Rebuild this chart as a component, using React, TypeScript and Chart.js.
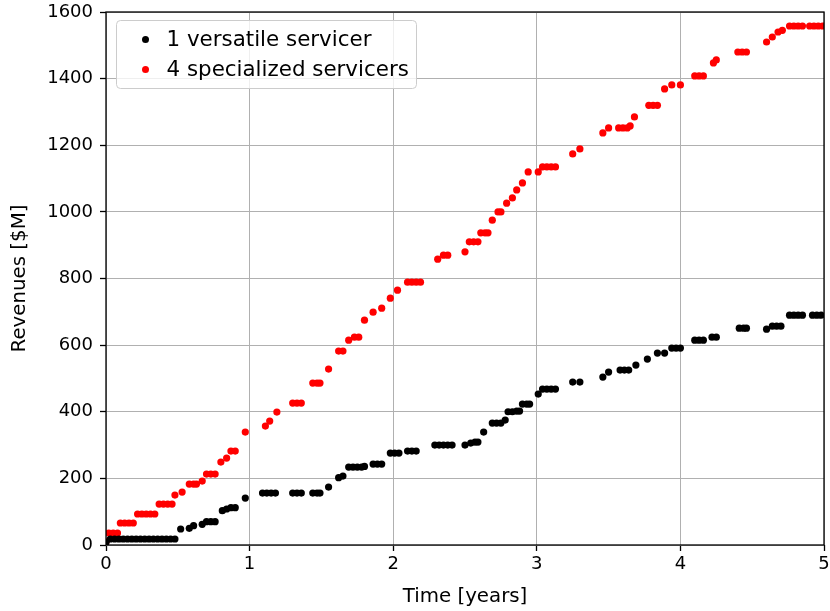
import React, { useEffect, useRef } from 'react';
import { Chart, registerables } from 'chart.js';

Chart.register(...registerables);

// ---- data ----
const seriesLabels = ['1 versatile servicer', '4 specialized servicers'];
const seriesColors = ['#000000', '#ff0000'];

const versatileTime = [
  0.0, 0.03, 0.06, 0.09, 0.12, 0.15, 0.18, 0.21, 0.24, 0.27, 0.3, 0.33, 0.36, 0.39, 0.42, 0.45, 0.48,
  0.52, 0.58, 0.61, 0.67, 0.7, 0.73, 0.76, 0.81, 0.84, 0.87, 0.9, 0.97,
  1.09, 1.12, 1.15, 1.18, 1.3, 1.33, 1.36, 1.44, 1.47, 1.49, 1.55, 1.62, 1.65,
  1.69, 1.72, 1.75, 1.78, 1.8, 1.86, 1.89, 1.92, 1.98, 2.01, 2.04,
  2.1, 2.13, 2.16, 2.29, 2.32, 2.35, 2.38, 2.41, 2.5, 2.54, 2.57, 2.59, 2.63,
  2.69, 2.72, 2.75, 2.78, 2.8, 2.83, 2.86, 2.88, 2.9, 2.93, 2.95,
  3.01, 3.04, 3.07, 3.1, 3.13, 3.25, 3.3, 3.46, 3.5, 3.58, 3.61, 3.64, 3.69,
  3.77, 3.84, 3.89, 3.94, 3.97, 4.0, 4.1, 4.13, 4.16, 4.22, 4.25,
  4.41, 4.44, 4.46, 4.6, 4.64, 4.67, 4.7, 4.76, 4.79, 4.82, 4.85, 4.92, 4.95, 4.98,
];
const versatileRevenue = [
  8, 18, 18, 18, 18, 18, 18, 18, 18, 18, 18, 18, 18, 18, 18, 18, 18,
  48, 50, 58, 62, 70, 70, 70, 103, 108, 112, 112, 141,
  156, 156, 156, 156, 156, 156, 156, 156, 156, 156, 174, 202, 207,
  234, 234, 234, 234, 236, 243, 243, 243, 276, 276, 276,
  282, 282, 282, 300, 300, 300, 300, 300, 300, 306, 309, 309, 339,
  366, 366, 366, 375, 400, 400, 402, 402, 423, 423, 423,
  453, 468, 468, 468, 468, 489, 489, 504, 519, 525, 525, 525, 540,
  558, 576, 576, 591, 591, 591, 615, 615, 615, 624, 624,
  651, 651, 651, 648, 657, 657, 657, 690, 690, 690, 690, 690, 690, 690,
];

const specializedTime = [
  0.0, 0.02, 0.05, 0.08, 0.1, 0.13, 0.16, 0.19, 0.22, 0.25, 0.28, 0.31, 0.34,
  0.37, 0.4, 0.43, 0.46, 0.48, 0.53, 0.58, 0.61, 0.63, 0.67, 0.7, 0.73, 0.76,
  0.8, 0.84, 0.87, 0.9, 0.97, 1.11, 1.14, 1.19, 1.3, 1.33, 1.36, 1.44, 1.47, 1.49,
  1.55, 1.62, 1.65, 1.69, 1.73, 1.76, 1.8, 1.86, 1.92, 1.98, 2.03,
  2.1, 2.13, 2.16, 2.19, 2.31, 2.35, 2.38, 2.5, 2.53, 2.56, 2.59,
  2.61, 2.64, 2.66, 2.69, 2.73, 2.75, 2.79, 2.83, 2.86, 2.9, 2.94,
  3.01, 3.04, 3.07, 3.1, 3.13, 3.25, 3.3, 3.46, 3.5, 3.57, 3.6, 3.63, 3.65, 3.68,
  3.78, 3.81, 3.84, 3.89, 3.94, 4.0, 4.1, 4.13, 4.16, 4.23, 4.25,
  4.4, 4.43, 4.46, 4.6, 4.64, 4.68, 4.71, 4.76, 4.79, 4.82, 4.85, 4.9, 4.93, 4.96, 4.99,
];
const specializedRevenue = [
  10, 36, 36, 36, 66, 66, 66, 66, 93, 93, 93, 93, 93,
  123, 123, 123, 123, 150, 159, 183, 183, 183, 192, 213, 213, 213,
  249, 261, 282, 282, 339, 357, 372, 399, 426, 426, 426, 486, 486, 486,
  528, 582, 582, 615, 624, 624, 675, 699, 711, 741, 765,
  789, 789, 789, 789, 858, 870, 870, 880, 910, 910, 910,
  937, 937, 937, 975, 1000, 1000, 1026, 1042, 1066, 1087, 1120,
  1120, 1135, 1135, 1135, 1135, 1174, 1189, 1237, 1252, 1252, 1252, 1252, 1258, 1285,
  1320, 1320, 1320, 1369, 1381, 1381, 1408, 1408, 1408, 1447, 1456,
  1480, 1480, 1480, 1510, 1525, 1540, 1545, 1558, 1558, 1558, 1558, 1558, 1558, 1558, 1558,
];

const xTickValues = [0, 1, 2, 3, 4, 5];
const yTickValues = [0, 200, 400, 600, 800, 1000, 1200, 1400, 1600];
const xTitle = 'Time [years]';
const yTitle = 'Revenues [$M]';

const FONT = "'DejaVu Sans', sans-serif";
const TICK_FS = 18;
const TITLE_FS = 19.8;
const LEGEND_FS = 21.4;

const zeroPad = (scale: any) => {
  scale.paddingTop = 0;
  scale.paddingBottom = 0;
  scale.paddingLeft = 0;
  scale.paddingRight = 0;
};

const framePlugin = {
  id: 'frameAndLegend',
  afterDraw(chart: any) {
    const { ctx, chartArea } = chart;
    ctx.save();
    // frame (spines)
    ctx.strokeStyle = '#000';
    ctx.lineWidth = 1.3;
    ctx.strokeRect(chartArea.left, chartArea.top, chartArea.right - chartArea.left, chartArea.bottom - chartArea.top);

    // legend
    const bx = chartArea.left + 10.5;
    const by = chartArea.top + 8.5;
    const bw = 300;
    const bh = 68;
    ctx.beginPath();
    ctx.roundRect(bx, by, bw, bh, 4);
    ctx.fillStyle = 'rgba(255,255,255,0.8)';
    ctx.fill();
    ctx.strokeStyle = '#cccccc';
    ctx.lineWidth = 1;
    ctx.stroke();
    ctx.font = `${LEGEND_FS}px ${FONT}`;
    ctx.textBaseline = 'middle';
    ctx.textAlign = 'left';
    chart.data.datasets.forEach((ds: any, i: number) => {
      const cy = by + 19 + i * 30;
      ctx.beginPath();
      ctx.arc(bx + 29, cy, 3.5, 0, Math.PI * 2);
      ctx.fillStyle = ds.backgroundColor;
      ctx.fill();
      ctx.fillStyle = '#000';
      ctx.fillText(ds.label, bx + 50, cy + 1);
    });
    ctx.restore();
  },
};

export default function App() {
  const ref = useRef<HTMLCanvasElement | null>(null);
  useEffect(() => {
    if (!ref.current) return;
    const toPoints = (xs: number[], ys: number[]) => xs.map((x, i) => ({ x, y: ys[i] }));
    const chart = new Chart(ref.current, {
      type: 'scatter',
      data: {
        datasets: [
          {
            label: seriesLabels[0],
            data: toPoints(versatileTime, versatileRevenue),
            backgroundColor: seriesColors[0],
            borderColor: seriesColors[0],
            pointRadius: 3.6,
            borderWidth: 0,
            clip: 0,
          },
          {
            label: seriesLabels[1],
            data: toPoints(specializedTime, specializedRevenue),
            backgroundColor: seriesColors[1],
            borderColor: seriesColors[1],
            pointRadius: 3.6,
            borderWidth: 0,
            clip: 0,
          },
        ],
      },
      options: {
        animation: false,
        responsive: false,
        maintainAspectRatio: false,
        events: [],
        layout: { padding: { left: 0, right: 6, top: 12, bottom: 0 } },
        plugins: { legend: { display: false }, tooltip: { enabled: false } },
        scales: {
          x: {
            type: 'linear',
            min: 0,
            max: 5,
            afterBuildTicks: (scale: any) => {
              scale.ticks = xTickValues.map((v) => ({ value: v }));
            },
            afterFit: (scale: any) => {
              scale.height = 66;
              zeroPad(scale);
            },
            grid: { color: '#b0b0b0', lineWidth: 1, tickColor: '#000', tickLength: 6, tickWidth: 1.3 },
            border: { display: false },
            ticks: {
              color: '#000',
              font: { family: FONT, size: TICK_FS },
              padding: 3,
              maxRotation: 0,
              callback: (v: any) => String(v),
            },
            title: { display: true, text: xTitle, color: '#000', font: { family: FONT, size: TITLE_FS }, padding: { top: 0, bottom: 2 } },
          },
          y: {
            type: 'linear',
            min: 0,
            max: 1600,
            afterBuildTicks: (scale: any) => {
              scale.ticks = yTickValues.map((v) => ({ value: v }));
            },
            afterFit: (scale: any) => {
              scale.width = 106;
              zeroPad(scale);
            },
            grid: { color: '#b0b0b0', lineWidth: 1, tickColor: '#000', tickLength: 6, tickWidth: 1.3 },
            border: { display: false },
            ticks: {
              color: '#000',
              font: { family: FONT, size: TICK_FS },
              padding: 7,
              callback: (v: any) => String(v),
            },
            title: { display: true, text: yTitle, color: '#000', font: { family: FONT, size: TITLE_FS }, padding: { top: 8, bottom: 0 } },
          },
        },
      },
      plugins: [framePlugin],
    });
    return () => chart.destroy();
  }, []);
  return (
    <div style={{ position: 'fixed', left: 0, top: 0, width: 830, height: 611, background: '#fff' }}>
      <canvas ref={ref} width={830} height={611} style={{ width: 830, height: 611, display: 'block' }} />
    </div>
  );
}
